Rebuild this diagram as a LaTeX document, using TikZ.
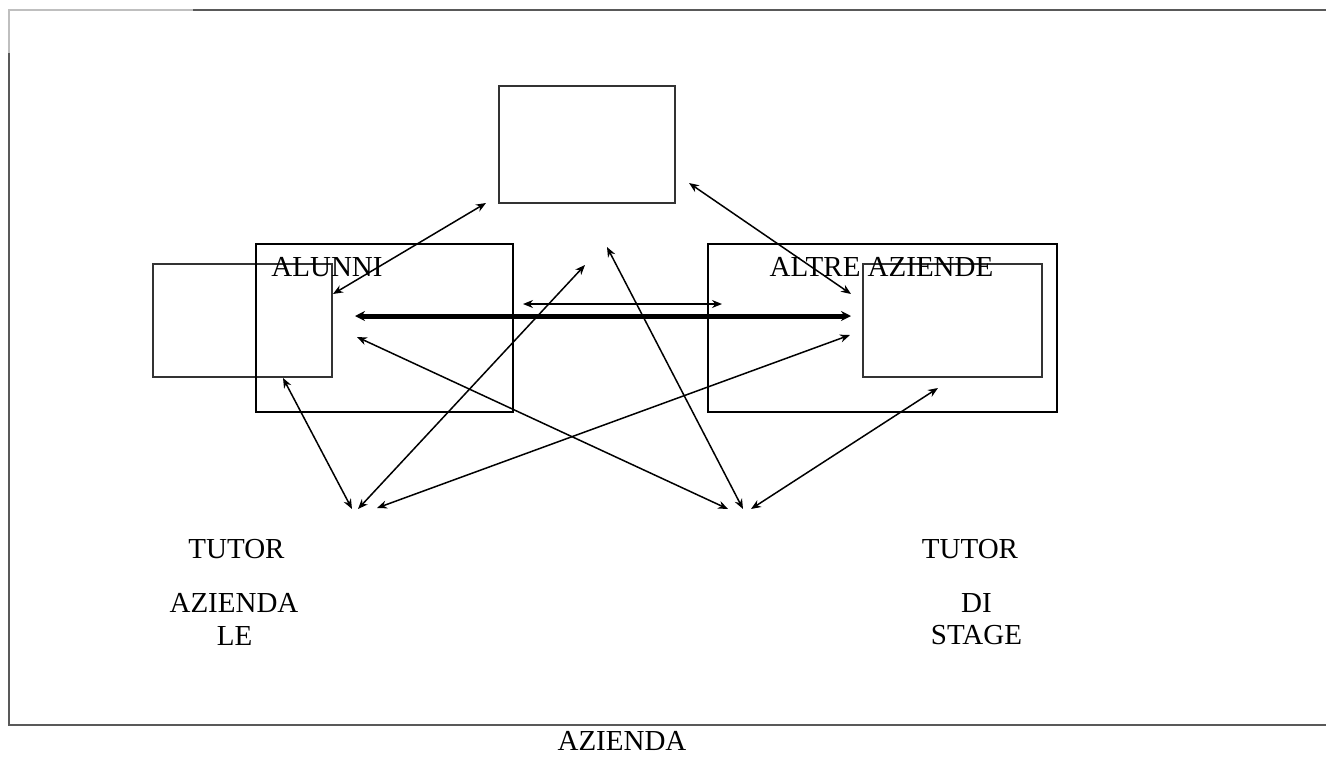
\documentclass[tikz,border=0pt]{standalone}
\usepackage{fontspec}
\setmainfont{Liberation Serif}
\usetikzlibrary{arrows.meta}
\begin{document}
\begin{tikzpicture}[x=1pt,y=-1pt,
  lbl/.style={anchor=base,inner sep=0pt,font=\fontsize{29}{34}\selectfont},
  smallbox/.style={draw=black!80,line width=2pt},
  bigbox/.style={draw=black,line width=2.6pt},
  link/.style={line width=1.5pt,{Stealth[length=10pt,width=8pt]}-{Stealth[length=10pt,width=8pt]}},
  thicklink/.style={line width=5pt,{Stealth[length=10pt,width=10pt]}-{Stealth[length=10pt,width=10pt]}},
  frameline/.style={draw=black!65,line width=1.4pt}]
\useasboundingbox (0,0) rectangle (1326,758);
% page frame
\draw[draw=black!25,line width=1.4pt] (8,10) -- (193,10);
\draw[draw=black!25,line width=1.4pt] (9,10) -- (9,53);
\draw[frameline] (193,10) -- (1326,10);
\draw[frameline] (9,53) -- (9,725) -- (1326,725);
% boxes
\node[smallbox,minimum width=176pt,minimum height=117pt,inner sep=0pt] (top) at (587,144.5) {};
\node[smallbox,minimum width=179pt,minimum height=113pt,inner sep=0pt] (left) at (242.5,320.5) {};
\node[bigbox,minimum width=257pt,minimum height=168pt,inner sep=0pt] (alunni) at (384.5,328) {};
\node[bigbox,minimum width=349pt,minimum height=168pt,inner sep=0pt] (altre) at (882.5,328) {};
\node[smallbox,minimum width=179pt,minimum height=113pt,inner sep=0pt] (right) at (952.5,320.5) {};
% labels
\node[lbl] (talunni) at (327,276) {ALUNNI};
\node[lbl] (taltre) at (881.5,276) {ALTRE AZIENDE};
\node[lbl] (t1) at (236.5,558) {TUTOR};
\node[lbl] (t2) at (234,612) {AZIENDA};
\node[lbl] (t3) at (234.5,645) {LE};
\node[lbl] (r1) at (970,558) {TUTOR};
\node[lbl] (r2) at (976.5,612) {DI};
\node[lbl] (r3) at (976.5,644) {STAGE};
\node[lbl] (bottom) at (622,750) {AZIENDA};
% connector end points
\coordinate (a1s) at (333,294);
\coordinate (a1e) at (486,203);
\coordinate (a2s) at (689,183);
\coordinate (a2e) at (851,294);
\coordinate (thS) at (355,316);
\coordinate (thE) at (851,316);
\coordinate (tnS) at (523,304);
\coordinate (tnE) at (722,304);
\coordinate (bl1) at (352,509);
\coordinate (bl2) at (358,509);
\coordinate (bl3) at (377,508);
\coordinate (br1) at (728,509);
\coordinate (br2) at (743,509);
\coordinate (br3) at (751,509);
\coordinate (p1) at (283,378);
\coordinate (p2) at (585,265);
\coordinate (p3) at (850,335);
\coordinate (p4) at (357,337);
\coordinate (p5) at (607,247);
\coordinate (p6) at (938,388);
% connectors
\draw[link] (a1s) -- (a1e);
\draw[link] (a2s) -- (a2e);
\draw[thicklink] (thS) -- (thE);
\draw[link] (tnS) -- (tnE);
\draw[link] (p1) -- (bl1);
\draw[link] (p2) -- (bl2);
\draw[link] (p3) -- (bl3);
\draw[link] (p4) -- (br1);
\draw[link] (p5) -- (br2);
\draw[link] (p6) -- (br3);
\end{tikzpicture}
\end{document}
